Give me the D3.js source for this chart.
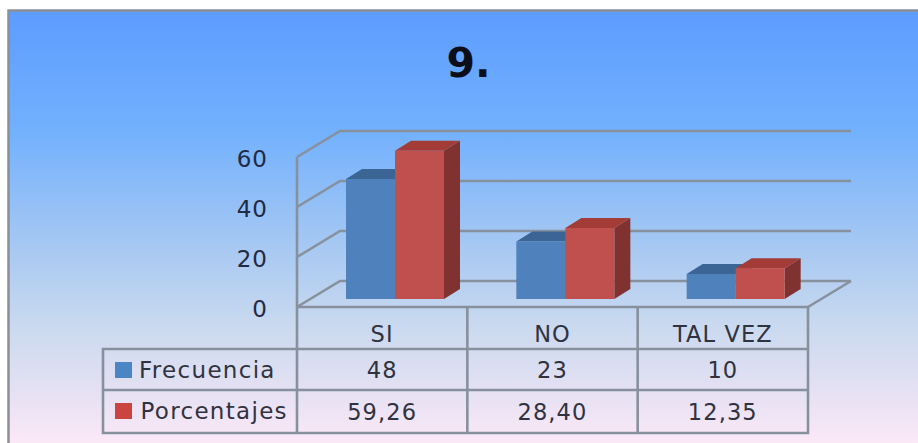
<!DOCTYPE html>
<html>
<head>
<meta charset="utf-8">
<script src="https://cdnjs.cloudflare.com/ajax/libs/d3/7.8.5/d3.min.js"></script>
<style>
html,body{margin:0;padding:0;background:#fff;}
svg{display:block;}
text{font-family:"DejaVu Sans",sans-serif;fill:#2f3340;}
</style>
</head>
<body>
<svg id="chart" width="918" height="443"></svg>
<script>
const title = "9.";
const categories = ["SI", "NO", "TAL VEZ"];
const seriesNames = ["Frecuencia", "Porcentajes"];
const frecuencia = [48, 23, 10];
const porcentajes = [59.26, 28.40, 12.35];
const frecuenciaLabels = ["48", "23", "10"];
const porcentajesLabels = ["59,26", "28,40", "12,35"];
const yTicks = [0, 20, 40, 60];

const svg = d3.select("#chart");
const axisGrey = "#87919d";

// Chart area background
const grad = svg.append("defs").append("linearGradient")
  .attr("id", "bg").attr("x1", 0).attr("y1", 0).attr("x2", 0).attr("y2", 1);
[[0, "#5c9cff"], [0.28, "#73b1fd"], [0.55, "#a8c9f2"], [0.72, "#c9d9ef"], [0.88, "#e6e1f3"], [1, "#fde9f8"]]
  .forEach(([o, c]) => grad.append("stop").attr("offset", o).attr("stop-color", c));

svg.append("rect").attr("x", 8.5).attr("y", 10.5).attr("width", 912).attr("height", 436)
  .attr("fill", "url(#bg)").attr("stroke", "#8c8f98").attr("stroke-width", 2.5);

svg.append("text").attr("x", 468.5).attr("y", 77).attr("text-anchor", "middle")
  .style("font-weight", 700).style("font-size", "41px")
  .style("fill", "#0c0f1a").text(title);

// Front plane scales; the back wall is this plane shifted by the depth offset
const x = d3.scaleBand().domain(categories).range([297, 808]);
const y = d3.scaleLinear().domain([0, 60]).range([307, 157]);
const wallDx = 43, wallDy = -26;
const plotRight = x.range()[1];

// Side wall and back wall gridlines
const grid = svg.append("g").attr("fill", "none").attr("stroke", axisGrey).attr("stroke-width", 2.6);
grid.selectAll("path.grid").data(yTicks).join("path").attr("class", "grid")
  .attr("d", t => d3.line()([
    [x.range()[0], y(t)],
    [x.range()[0] + wallDx, y(t) + wallDy],
    [plotRight + wallDx, y(t) + wallDy]
  ]));
grid.append("line").attr("x1", 297).attr("x2", 297).attr("y1", y(60)).attr("y2", y(0));
grid.append("line").attr("x1", plotRight).attr("x2", plotRight + wallDx)
  .attr("y1", y(0)).attr("y2", y(0) + wallDy);

// Value axis labels
svg.append("g").selectAll("text").data(yTicks).join("text")
  .attr("x", 268).attr("y", t => y(t) + 9.5).attr("text-anchor", "end")
  .style("font-size", "23px").style("letter-spacing", "1px").style("fill", "#1f2a44").text(d => d);

// 3D columns: side face, top face, then front face
const barW = 49, barDx = 16, barDy = -10, baseShift = -8, groupInset = 49;
const series = [
  {values: frecuencia, front: "#4f81bd", top: "#3a6595", side: "#35587f"},
  {values: porcentajes, front: "#c0504d", top: "#a33b37", side: "#7f322f"}
];
const unit = y(0) - y(1);
const bars = svg.append("g");
categories.forEach((c, i) => {
  series.forEach((s, k) => {
    const x0 = x(c) + groupInset + k * barW, x1 = x0 + barW;
    const yb = y(0) + baseShift, yt = yb - s.values[i] * unit;
    const g = bars.append("g");
    const poly = pts => pts.map(p => p.join(",")).join(" ");
    g.append("polygon").attr("fill", s.side)
      .attr("points", poly([[x1, yt], [x1 + barDx, yt + barDy], [x1 + barDx, yb + barDy], [x1, yb]]));
    g.append("polygon").attr("fill", s.top)
      .attr("points", poly([[x0, yt], [x0 + barDx, yt + barDy], [x1 + barDx, yt + barDy], [x1, yt]]));
    g.append("rect").attr("fill", s.front).attr("x", x0).attr("y", yt).attr("width", barW).attr("height", yb - yt);
  });
});

// Data table beneath the plot
const rowY = [307, 349, 390, 433];
const tableLeft = 103;
const table = svg.append("g").attr("fill", "none").attr("stroke", axisGrey).attr("stroke-width", 2.6);
table.append("path").attr("d", d3.line()([[297, rowY[0]], [plotRight, rowY[0]], [plotRight, rowY[3]], [tableLeft, rowY[3]], [tableLeft, rowY[1]], [plotRight, rowY[1]]]));
table.append("line").attr("x1", tableLeft).attr("x2", plotRight).attr("y1", rowY[2]).attr("y2", rowY[2]);
categories.map(c => x(c)).forEach(px =>
  table.append("line").attr("x1", px).attr("x2", px).attr("y1", rowY[0]).attr("y2", rowY[3]));

const labels = svg.append("g").attr("text-anchor", "middle")
  .style("font-size", "22.5px").style("letter-spacing", "1.1px");
categories.forEach((c, i) => {
  const cx = x(c) + x.bandwidth() / 2;
  labels.append("text").attr("x", cx).attr("y", 342).text(c);
  labels.append("text").attr("x", cx).attr("y", 378).text(frecuenciaLabels[i]);
  labels.append("text").attr("x", cx).attr("y", 420).text(porcentajesLabels[i]);
});

// Series names with legend keys
const keyColors = ["#4a86c5", "#cb4540"];
seriesNames.forEach((n, i) => {
  svg.append("rect").attr("x", 115).attr("y", [362, 403][i]).attr("width", 17).attr("height", 16).attr("fill", keyColors[i]);
  svg.append("text").attr("x", [139, 140.5][i]).attr("y", [378, 419][i])
    .style("font-size", "23px").style("letter-spacing", "1.3px").text(n);
});
</script>
</body>
</html>
